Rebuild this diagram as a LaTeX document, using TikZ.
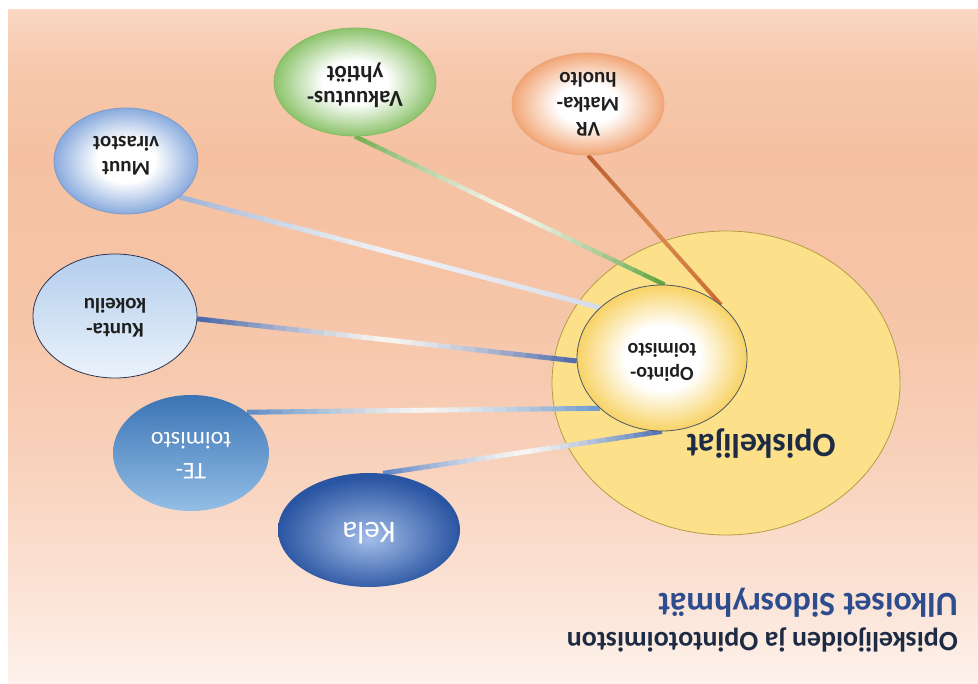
\documentclass[tikz,border=0pt]{standalone}
\usepackage{fontspec}
\setmainfont{Carlito}
\usetikzlibrary{shapes.geometric,calc}
\definecolor{bg1}{HTML}{FAD8C4}
\definecolor{bg2}{HTML}{F7C9AE}
\definecolor{bg3}{HTML}{F5C1A2}
\definecolor{bg4}{HTML}{F6C4A6}
\definecolor{bg5}{HTML}{F8D0B9}
\definecolor{bg6}{HTML}{FBE4D7}
\definecolor{bg7}{HTML}{FDF2EC}
\definecolor{vredge}{HTML}{F2A676}
\definecolor{vrborder}{HTML}{E8A47A}
\definecolor{vakedge}{HTML}{8CC36B}
\definecolor{vakborder}{HTML}{84BB66}
\definecolor{muutedge}{HTML}{88AADD}
\definecolor{muutborder}{HTML}{7D9BCB}
\definecolor{kuntatop}{HTML}{B3CDEC}
\definecolor{kuntabot}{HTML}{EBF3FB}
\definecolor{kuntaborder}{HTML}{2B3553}
\definecolor{tetop}{HTML}{3B74B5}
\definecolor{tebot}{HTML}{93BEE5}
\definecolor{kelain}{HTML}{A3BDE8}
\definecolor{kelaout}{HTML}{2A55A2}
\definecolor{inneredge}{HTML}{F8D264}
\definecolor{innerborder}{HTML}{4B5866}
\definecolor{bigfill}{HTML}{FCE18A}
\definecolor{bigborder}{HTML}{B59C45}
\definecolor{titlecol}{HTML}{2E4D8E}
\definecolor{navy}{HTML}{1E2B45}
\definecolor{vrA}{HTML}{B85A2A}
\definecolor{vrM}{HTML}{D9884F}
\definecolor{vrB}{HTML}{C9672F}
\definecolor{vakA}{HTML}{6FAE50}
\definecolor{vakM}{HTML}{F8F4EC}
\definecolor{vakB}{HTML}{5AA23C}
\definecolor{muutA}{HTML}{9FB3D6}
\definecolor{muutM}{HTML}{EEF0F4}
\definecolor{muutB}{HTML}{D5DCE8}
\definecolor{kuntaA}{HTML}{4563A6}
\definecolor{kuntaM}{HTML}{F8F5F0}
\definecolor{kuntaB}{HTML}{4A66A8}
\definecolor{teA}{HTML}{5B8AC4}
\definecolor{teM}{HTML}{F6F4F0}
\definecolor{teB}{HTML}{6C98CC}
\definecolor{kelaA}{HTML}{5D84C4}
\definecolor{kelaM}{HTML}{F8F6F2}
\definecolor{kelaB}{HTML}{4A70B4}
\pgfdeclareverticalshading{bgsh}{100bp}{color(0bp)=(bg7); color(25bp)=(bg7); color(31.2bp)=(bg6); color(42.4bp)=(bg5); color(53.5bp)=(bg4); color(64.6bp)=(bg3); color(71.3bp)=(bg2); color(75bp)=(bg1); color(100bp)=(bg1)}
\pgfdeclareradialshading{vrsh}{\pgfpoint{0bp}{0bp}}{color(0bp)=(white); color(10bp)=(white); color(25bp)=(vredge); color(50bp)=(vredge)}
\pgfdeclareradialshading{vaksh}{\pgfpoint{0bp}{0bp}}{color(0bp)=(white); color(10bp)=(white); color(25bp)=(vakedge); color(50bp)=(vakedge)}
\pgfdeclareradialshading{muutsh}{\pgfpoint{0bp}{0bp}}{color(0bp)=(white); color(10bp)=(white); color(25bp)=(muutedge); color(50bp)=(muutedge)}
\pgfdeclareradialshading{innersh}{\pgfpoint{0bp}{0bp}}{color(0bp)=(white); color(11bp)=(white); color(25bp)=(inneredge); color(50bp)=(inneredge)}
\pgfdeclareradialshading{kelash}{\pgfpoint{0bp}{-4bp}}{color(0bp)=(kelain); color(25bp)=(kelaout); color(50bp)=(kelaout)}
\pgfdeclarelayer{bgl}
\pgfdeclarelayer{conn}
\pgfsetlayers{bgl,conn,main}
\newcommand{\gradlink}[6]{%
  \foreach \gLi in {0,...,29}{%
    \pgfmathsetmacro{\gLa}{\gLi/30}%
    \pgfmathsetmacro{\gLb}{min(1,(\gLi+1.1)/30)}%
    \pgfmathsetmacro{\gLm}{(\gLi+0.5)/30}%
    \pgfmathtruncatemacro{\gLp}{100*(abs(2*\gLm-1))^1.3}%
    \ifdim\gLm pt<0.5pt\colorlet{gLcol}{#3!\gLp!#4}\else\colorlet{gLcol}{#5!\gLp!#4}\fi
    \draw[line width=#6, draw=gLcol] ($(#1)!\gLa!(#2)$) -- ($(#1)!\gLb!(#2)$);
  }}
\begin{document}
\begin{tikzpicture}[x=1pt,y=-1pt,
  bubble/.style={ellipse, inner sep=0pt, line width=0.8pt},
  lbl/.style={rotate=180, align=center, inner sep=0pt, text=black!88,
    font=\bfseries\fontsize{21}{25}\selectfont}]
\useasboundingbox (0,0) rectangle (978,684);
\begin{pgfonlayer}{bgl}
\shade[shading=bgsh] (8,10) rectangle (978,684);
\node[bubble, fill=bigfill, draw=bigborder, minimum width=348pt, minimum height=304pt] (stud) at (726,383) {};
\end{pgfonlayer}
% bubbles
\node[bubble, shade, shading=innersh, draw=innerborder, minimum width=170pt, minimum height=146pt] (opinto) at (662,358) {};
\node[bubble, shade, shading=vrsh, draw=vrborder, minimum width=152pt, minimum height=102pt] (vr) at (588,104) {};
\node[bubble, shade, shading=vaksh, draw=vakborder, minimum width=162pt, minimum height=108pt] (vak) at (355,82) {};
\node[bubble, shade, shading=muutsh, draw=muutborder, minimum width=144pt, minimum height=106pt] (muut) at (126,161) {};
\node[bubble, top color=kuntatop, bottom color=kuntabot, draw=kuntaborder, minimum width=164pt, minimum height=124pt] (kunta) at (115,316) {};
\node[bubble, top color=tetop, bottom color=tebot, minimum width=156pt, minimum height=116pt] (te) at (191,453) {};
\node[bubble, shade, shading=kelash, minimum width=182pt, minimum height=114pt] (kela) at (369,530) {};
% labels
\node[lbl, font=\bfseries\fontsize{34}{38}\selectfont, text=navy] (studt) at (761,444) {Opiskelijat};
\node[lbl, font=\bfseries\fontsize{20}{24}\selectfont] (opintot) at ($(opinto)+(0,4)$) {Opinto-\\toimisto};
\node[lbl] (vrt) at (vr) {VR\\Matka-\\huolto};
\node[lbl, font=\bfseries\fontsize{23}{25}\selectfont] (vakt) at ($(vak)+(0,3)$) {Vakuutus-\\yhtiöt};
\node[lbl] (muutt) at ($(muut)+(0,-5)$) {Muut\\virastot};
\node[lbl] (kuntat) at ($(kunta)+(0,2)$) {Kunta-\\kokeilu};
\node[lbl, font=\fontsize{24}{31}\selectfont, text=white] (tet) at ($(te)+(0,3)$) {TE-\\toimisto};
\node[lbl, font=\fontsize{31}{36}\selectfont, text=white] (kelat) at ($(kela)+(0,3)$) {Kela};
\node[rotate=180, anchor=west, inner sep=0pt, text=titlecol, font=\bfseries\fontsize{34}{40}\selectfont] (title2) at (958,603) {Ulkoiset Sidosryhmät};
\node[rotate=180, anchor=west, inner sep=0pt, text=navy, font=\bfseries\fontsize{28}{34}\selectfont] (title1) at (958,640) {Opiskelijoiden ja Opintotoimiston};
% connectors
\begin{pgfonlayer}{conn}
\gradlink{vr.270}{opinto.42}{vrA}{vrM}{vrB}{4pt}
\gradlink{vak.270}{opinto.88}{vakA}{vakM}{vakB}{4.5pt}
\gradlink{muut.-34}{opinto.141}{muutA}{muutM}{muutB}{5pt}
\gradlink{kunta.-2}{opinto.182}{kuntaA}{kuntaM}{kuntaB}{5pt}
\gradlink{te.36}{opinto.219}{teA}{teM}{teB}{5pt}
\gradlink{kela.76}{opinto.270}{kelaA}{kelaM}{kelaB}{5pt}
\end{pgfonlayer}
\end{tikzpicture}
\end{document}
